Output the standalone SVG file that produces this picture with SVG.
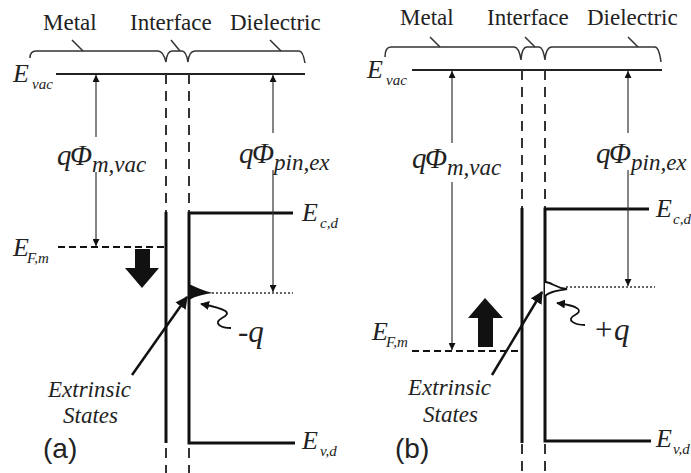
<svg xmlns="http://www.w3.org/2000/svg" width="691" height="473" viewBox="0 0 691 473">
<defs>
<marker id="ah" viewBox="0 0 10 10" refX="10" refY="5" markerWidth="7" markerHeight="7" markerUnits="userSpaceOnUse" orient="auto"><path d="M0,0 L10,5 L0,10 Z" fill="#111"/></marker>
<marker id="ahb" viewBox="0 0 10 10" refX="9" refY="5" markerWidth="5" markerHeight="5" orient="auto"><path d="M0,0 L10,5 L0,10 Z" fill="#111"/></marker>
</defs>

<g id="panel-a">
<g id="a-labels">
<text font-family="Liberation Serif" font-size="23" fill="#222" x="43" y="30">Metal</text>
<text font-family="Liberation Serif" font-size="23" fill="#222" x="130" y="30">Interface</text>
<text font-family="Liberation Serif" font-size="23" fill="#222" x="230" y="30">Dielectric</text>
<path fill="none" stroke="#333" stroke-width="1.5" d="M30,58 Q30,51 36,51 L158,51 Q163,51 166,62 Q167,51 172,51 L182,51 Q186,51 188,62 Q189,51 195,51 L299,51 Q303,51 305,63"/>
<path fill="none" stroke="#333" stroke-width="1.5" d="M83,51 L72,40 M180,51 L171,40 M281,51 L270,40"/>
</g>
<g id="a-levels">
<line stroke="#222" stroke-width="2" x1="56" y1="74" x2="305" y2="74"/>
<text font-family="Liberation Serif" font-style="italic" font-size="26" fill="#222" x="13" y="82">E</text><text font-family="Liberation Serif" font-style="italic" font-size="15" fill="#222" x="32" y="89">vac</text>
<line stroke="#333" stroke-width="2" stroke-dasharray="10,7" x1="166" y1="74" x2="166" y2="473"/>
<line stroke="#333" stroke-width="2" stroke-dasharray="10,7" x1="189" y1="74" x2="189" y2="473"/>
<line stroke="#111" stroke-width="3" x1="166" y1="212" x2="166" y2="443"/>
<path fill="none" stroke="#111" stroke-width="3" d="M293,213 L189,213 L189,443 L295,443"/>
<text font-family="Liberation Serif" font-style="italic" font-size="26" fill="#222" x="302" y="221">E</text><text font-family="Liberation Serif" font-style="italic" font-size="15" fill="#222" x="320" y="228">c,d</text>
<text font-family="Liberation Serif" font-style="italic" font-size="26" fill="#222" x="302" y="449">E</text><text font-family="Liberation Serif" font-style="italic" font-size="15" fill="#222" x="320" y="456">v,d</text>
<line stroke="#111" stroke-width="2.2" stroke-dasharray="7,4" x1="58" y1="247" x2="165" y2="247"/>
<text font-family="Liberation Serif" font-style="italic" font-size="26" fill="#222" x="13" y="256">E</text><text font-family="Liberation Serif" font-style="italic" font-size="15" fill="#222" x="27" y="263">F,m</text>
<line stroke="#333" stroke-width="1.5" stroke-dasharray="2,2" x1="212" y1="293" x2="293" y2="293"/>
<path d="M189,284 C196,287 204,291 213,293 C204,294 196,296 189,300 Z" fill="#111"/>
<polygon points="135,249 150,249 150,268 159,268 142,288 125,268 135,268" fill="#111"/>
</g>
<g id="a-arrows">
<line stroke="#333" stroke-width="1.2" x1="96" y1="137" x2="96" y2="75" marker-end="url(#ah)"/>
<line stroke="#333" stroke-width="1.2" x1="96" y1="172" x2="96" y2="246" marker-end="url(#ah)"/>
<line stroke="#333" stroke-width="1.2" x1="273" y1="133" x2="273" y2="75" marker-end="url(#ah)"/>
<line stroke="#333" stroke-width="1.2" x1="273" y1="170" x2="273" y2="292" marker-end="url(#ah)"/>
<text font-family="Liberation Serif" font-style="italic" font-size="29" fill="#222" x="57" y="165">q</text><text font-family="Liberation Serif" font-style="italic" font-size="29" fill="#222" x="70" y="165">Φ</text><text font-family="Liberation Serif" font-style="italic" font-size="23" fill="#222" x="92" y="172">m,vac</text>
<text font-family="Liberation Serif" font-style="italic" font-size="29" fill="#222" x="239" y="163">q</text><text font-family="Liberation Serif" font-style="italic" font-size="29" fill="#222" x="252" y="163">Φ</text><text font-family="Liberation Serif" font-style="italic" font-size="23" fill="#222" x="274" y="170">pin,ex</text>
<line stroke="#111" stroke-width="2.5" x1="132" y1="375" x2="187" y2="297" marker-end="url(#ahb)"/>
<path fill="none" stroke="#111" stroke-width="1.8" d="M231,328 C222,328 212,324 222,318 C232,313 228,309 201,304" marker-end="url(#ahb)"/>
<text font-family="Liberation Serif" font-style="italic" font-size="31" fill="#222" x="238" y="342">-q</text>
<text font-family="Liberation Serif" font-style="italic" font-size="23" fill="#222" x="48" y="397">Extrinsic</text>
<text font-family="Liberation Serif" font-style="italic" font-size="23" fill="#222" x="63" y="423">States</text>
<text font-family="Liberation Sans" font-size="28" fill="#222" x="43" y="458">(a)</text>
</g>
</g>

<g id="panel-b">
<g id="b-labels">
<text font-family="Liberation Serif" font-size="23" fill="#222" x="400" y="25">Metal</text>
<text font-family="Liberation Serif" font-size="23" fill="#222" x="487" y="25">Interface</text>
<text font-family="Liberation Serif" font-size="23" fill="#222" x="587" y="25">Dielectric</text>
<path fill="none" stroke="#333" stroke-width="1.5" d="M385,57 Q385,47 391,47 L514,47 Q519,47 521,60 Q522,47 527,47 L539,47 Q543,47 545,60 Q546,47 552,47 L655,47 Q659,47 661,62"/>
<path fill="none" stroke="#333" stroke-width="1.5" d="M440,47 L430,37 M535,47 L525,37 M638,47 L628,37"/>
</g>
<g id="b-levels">
<line stroke="#222" stroke-width="2" x1="412" y1="70" x2="662" y2="70"/>
<text font-family="Liberation Serif" font-style="italic" font-size="26" fill="#222" x="367" y="78">E</text><text font-family="Liberation Serif" font-style="italic" font-size="15" fill="#222" x="386" y="85">vac</text>
<line stroke="#333" stroke-width="2" stroke-dasharray="10,7" x1="522" y1="70" x2="522" y2="473"/>
<line stroke="#333" stroke-width="2" stroke-dasharray="10,7" x1="545" y1="70" x2="545" y2="473"/>
<line stroke="#111" stroke-width="3" x1="522" y1="208" x2="522" y2="443"/>
<path fill="none" stroke="#111" stroke-width="3" d="M649,209 L545,209 L545,441 L651,441"/>
<text font-family="Liberation Serif" font-style="italic" font-size="26" fill="#222" x="656" y="217">E</text><text font-family="Liberation Serif" font-style="italic" font-size="15" fill="#222" x="673" y="224">c,d</text>
<text font-family="Liberation Serif" font-style="italic" font-size="26" fill="#222" x="656" y="447">E</text><text font-family="Liberation Serif" font-style="italic" font-size="15" fill="#222" x="673" y="454">v,d</text>
<line stroke="#111" stroke-width="2.2" stroke-dasharray="7,4" x1="412" y1="351" x2="520" y2="351"/>
<text font-family="Liberation Serif" font-style="italic" font-size="26" fill="#222" x="372" y="340">E</text><text font-family="Liberation Serif" font-style="italic" font-size="15" fill="#222" x="386" y="347">F,m</text>
<line stroke="#333" stroke-width="1.5" stroke-dasharray="2,2" x1="566" y1="287" x2="655" y2="287"/>
<path d="M545,282 C552,282 555,288 567,289 C557,291 550,291 545,296" fill="#fff" stroke="#111" stroke-width="1.8"/>
<polygon points="478,347 493,347 493,318 503,318 485,298 468,318 478,318" fill="#111"/>
</g>
<g id="b-arrows">
<line stroke="#333" stroke-width="1.2" x1="452" y1="143" x2="452" y2="71" marker-end="url(#ah)"/>
<line stroke="#333" stroke-width="1.2" x1="452" y1="182" x2="452" y2="350" marker-end="url(#ah)"/>
<line stroke="#333" stroke-width="1.2" x1="628" y1="133" x2="628" y2="71" marker-end="url(#ah)"/>
<line stroke="#333" stroke-width="1.2" x1="628" y1="170" x2="628" y2="286" marker-end="url(#ah)"/>
<text font-family="Liberation Serif" font-style="italic" font-size="29" fill="#222" x="412" y="168">q</text><text font-family="Liberation Serif" font-style="italic" font-size="29" fill="#222" x="425" y="168">Φ</text><text font-family="Liberation Serif" font-style="italic" font-size="23" fill="#222" x="447" y="175">m,vac</text>
<text font-family="Liberation Serif" font-style="italic" font-size="29" fill="#222" x="596" y="163">q</text><text font-family="Liberation Serif" font-style="italic" font-size="29" fill="#222" x="609" y="163">Φ</text><text font-family="Liberation Serif" font-style="italic" font-size="23" fill="#222" x="631" y="170">pin,ex</text>
<line stroke="#111" stroke-width="2.5" x1="492" y1="375" x2="542" y2="292" marker-end="url(#ahb)"/>
<path fill="none" stroke="#111" stroke-width="1.8" d="M585,325 C575,325 565,320 575,315 C583,311 580,306 557,303" marker-end="url(#ahb)"/>
<text font-family="Liberation Serif" font-style="italic" font-size="31" fill="#222" x="593" y="340">+q</text>
<text font-family="Liberation Serif" font-style="italic" font-size="23" fill="#222" x="408" y="395">Extrinsic</text>
<text font-family="Liberation Serif" font-style="italic" font-size="23" fill="#222" x="423" y="422">States</text>
<text font-family="Liberation Sans" font-size="28" fill="#222" x="395" y="458">(b)</text>
</g>
</g>
</svg>
